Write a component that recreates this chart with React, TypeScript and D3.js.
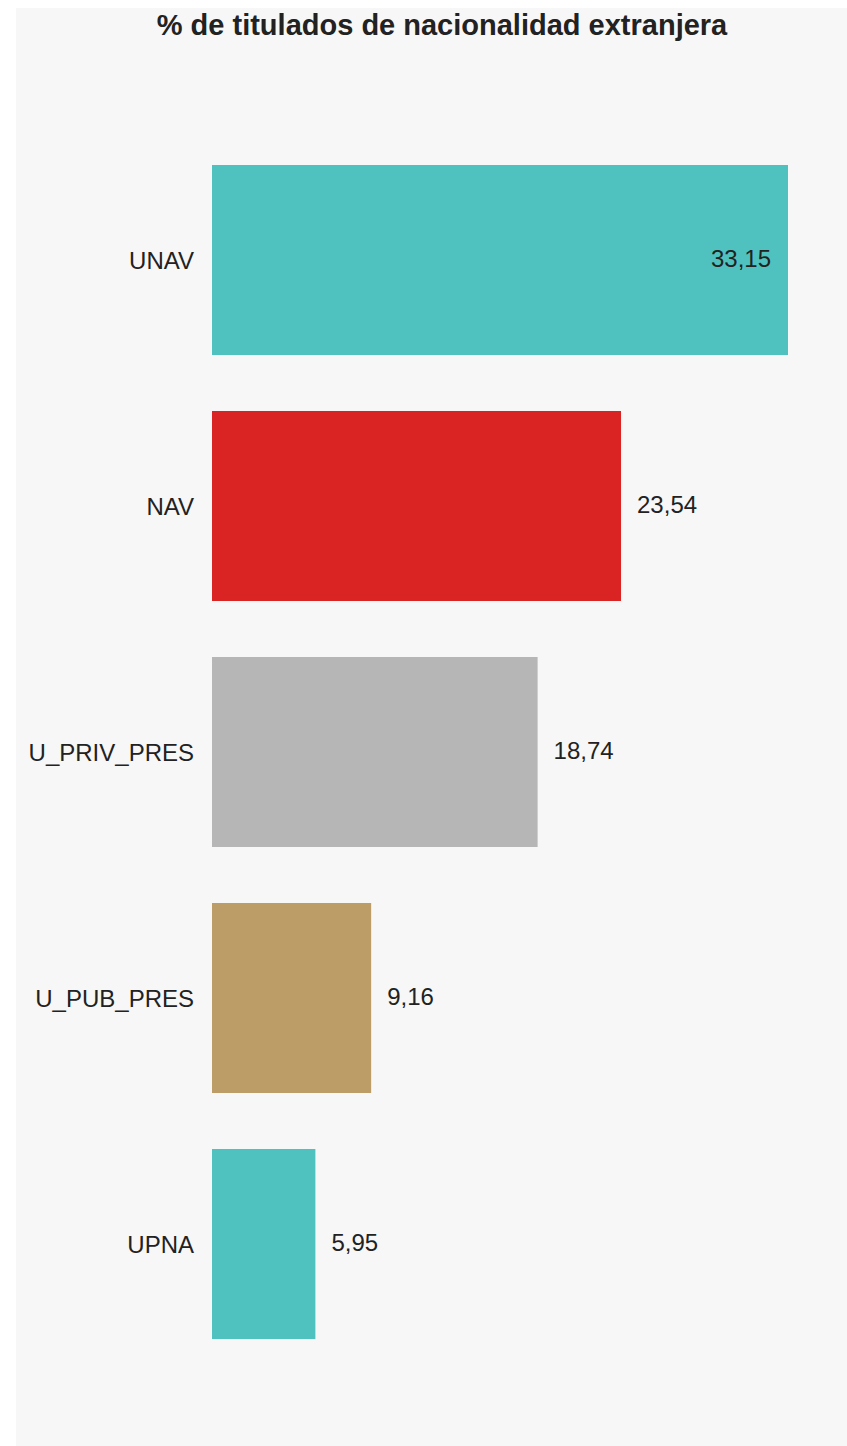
import React from "react";
import * as d3 from "d3";

const categories = ["UNAV", "NAV", "U_PRIV_PRES", "U_PUB_PRES", "UPNA"];
const values = [33.15, 23.54, 18.74, 9.16, 5.95];
const colors = ["#4fc2bf", "#da2323", "#b6b6b6", "#bd9d67", "#4fc2bf"];
const title = "% de titulados de nacionalidad extranjera";

const W = 847;
const H = 1446;
const panel = { x: 16, y: 8, w: 831, h: 1438 };
const plot = { left: 212, right: 788, top: 137, bottom: 1367 };
const font = "'Liberation Sans', Arial, sans-serif";

export default function App() {
  const x = d3.scaleLinear().domain([0, d3.max(values) as number]).range([plot.left, plot.right]);
  const y = d3
    .scaleBand<string>()
    .domain(categories)
    .range([plot.top, plot.bottom])
    .paddingInner(0.2276)
    .paddingOuter(0.1138);
  const fmt = (v: number) => v.toFixed(2).replace(".", ",");

  return (
    <svg
      width={W}
      height={H}
      style={{ position: "absolute", left: 0, top: 0, display: "block" }}
    >
      <rect x={panel.x} y={panel.y} width={panel.w} height={panel.h} fill="#f7f7f7" />
      <text
        x={442}
        y={35}
        textAnchor="middle"
        fontFamily={font}
        fontWeight="bold"
        fontSize={29}
        fill="#222"
      >
        {title}
      </text>
      {categories.map((c, i) => {
        const v = values[i];
        const y0 = y(c) as number;
        const bh = y.bandwidth();
        const xEnd = x(v);
        const label = fmt(v);
        const estW = label.length * 12;
        const inside = xEnd + 16 + estW > panel.x + panel.w;
        const cy = y0 + bh / 2;
        return (
          <g key={c}>
            <rect x={x(0)} y={y0} width={xEnd - x(0)} height={bh} fill={colors[i]} />
            <text
              x={x(0) - 18}
              y={cy}
              dy="0.36em"
              textAnchor="end"
              fontFamily={font}
              fontSize={24}
              fill="#222"
            >
              {c}
            </text>
            <text
              x={inside ? xEnd - 17 : xEnd + 16}
              y={cy}
              dy="0.3em"
              textAnchor={inside ? "end" : "start"}
              fontFamily={font}
              fontSize={24}
              fill="#222"
            >
              {label}
            </text>
          </g>
        );
      })}
    </svg>
  );
}
